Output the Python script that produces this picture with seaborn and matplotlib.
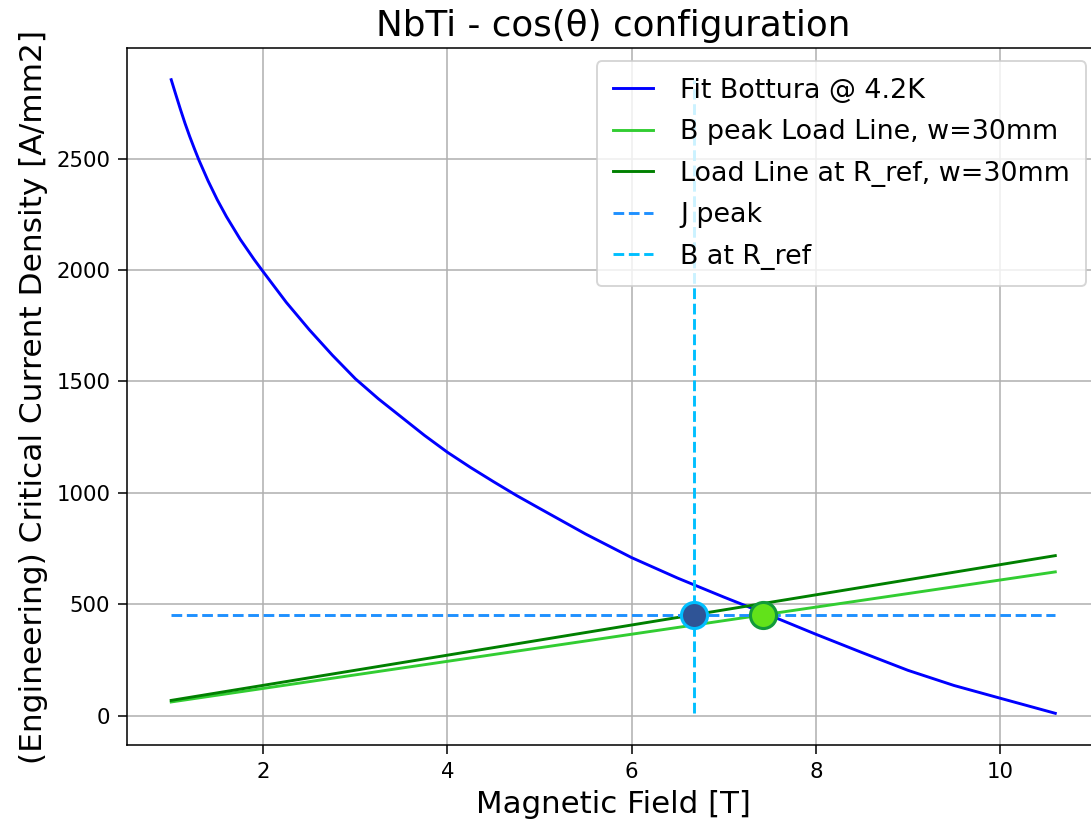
import numpy as np
import pandas as pd
import matplotlib
matplotlib.use("Agg")
import matplotlib.pyplot as plt
import seaborn as sns

# ---- data ----
B_fit = [1.0, 1.05, 1.1, 1.15, 1.2, 1.25, 1.3, 1.4, 1.5, 1.6, 1.75, 1.9, 2.0,
         2.25, 2.5, 2.75, 3.0, 3.25, 3.5, 3.75, 4.0, 4.25, 4.5, 4.75, 5.0, 5.5,
         6.0, 6.5, 7.0, 7.5, 8.0, 8.5, 9.0, 9.5, 10.0, 10.6]
J_fit = [2855, 2788, 2722, 2659, 2601, 2547, 2495, 2401, 2316, 2240, 2138, 2048, 1992,
         1855, 1732, 1618, 1512, 1422, 1340, 1258, 1182, 1114, 1050, 988, 930, 815,
         709, 617, 532, 450, 365, 283, 203, 135, 78, 10]

B_load = [1.0, 10.6]
J_load_peak = [61, 645]     # B peak Load Line
J_load_ref = [68, 718]      # Load Line at R_ref

J_peak = 452
B_ref = 6.68
B_peak = 7.43

title = "NbTi - cos(\u03b8) configuration"
xlabel = "Magnetic Field [T]"
ylabel = "(Engineering) Critical Current Density [A/mm2]"

DPI = 139
fig = plt.figure(figsize=(1091 / DPI, 823 / DPI), dpi=DPI)
ax = fig.add_axes([127 / 1091, 1 - 745 / 823, (1099.5 - 127) / 1091, (745 - 48) / 823])

LW = 1.5
sns.lineplot(x=B_fit, y=J_fit, ax=ax, color="blue", lw=LW, label="Fit Bottura @ 4.2K",
             estimator=None, sort=False)
sns.lineplot(x=B_load, y=J_load_peak, ax=ax, color="limegreen", lw=LW,
             label="B peak Load Line, w=30mm", estimator=None, sort=False)
sns.lineplot(x=B_load, y=J_load_ref, ax=ax, color="green", lw=LW,
             label="Load Line at R_ref, w=30mm", estimator=None, sort=False)
sns.lineplot(x=[B_fit[0], B_fit[-1]], y=[J_peak, J_peak], ax=ax, color="dodgerblue",
             lw=LW, linestyle="--", label="J peak", estimator=None, sort=False)
sns.lineplot(x=[B_ref, B_ref], y=[min(J_fit), max(J_fit)], ax=ax, color="deepskyblue",
             lw=LW, linestyle="--", label="B at R_ref", estimator=None, sort=False)

MS = 13.5
sns.scatterplot(x=[B_ref], y=[J_peak], ax=ax, s=MS ** 2,
                color="#2F5496", edgecolor="deepskyblue", linewidth=1.6, zorder=5,
                legend=False)
sns.scatterplot(x=[B_peak], y=[J_peak], ax=ax, s=MS ** 2,
                color="#62E21A", edgecolor="#129A3A", linewidth=1.6, zorder=5,
                legend=False)

ax.grid(True, color="#b0b0b0", lw=0.8)
ax.set_axisbelow(True)
ax.set_title(title, fontsize=18.5)
ax.set_xlabel(xlabel, fontsize=16)
ax.set_ylabel(ylabel, fontsize=16.2)
ax.tick_params(labelsize=11, length=4.7, pad=4)
ax.legend(loc="upper right", fontsize=13.9, handlelength=1.5, handletextpad=1.0,
          borderpad=0.6, labelspacing=0.58)

fig.savefig("out.png", dpi=DPI)
